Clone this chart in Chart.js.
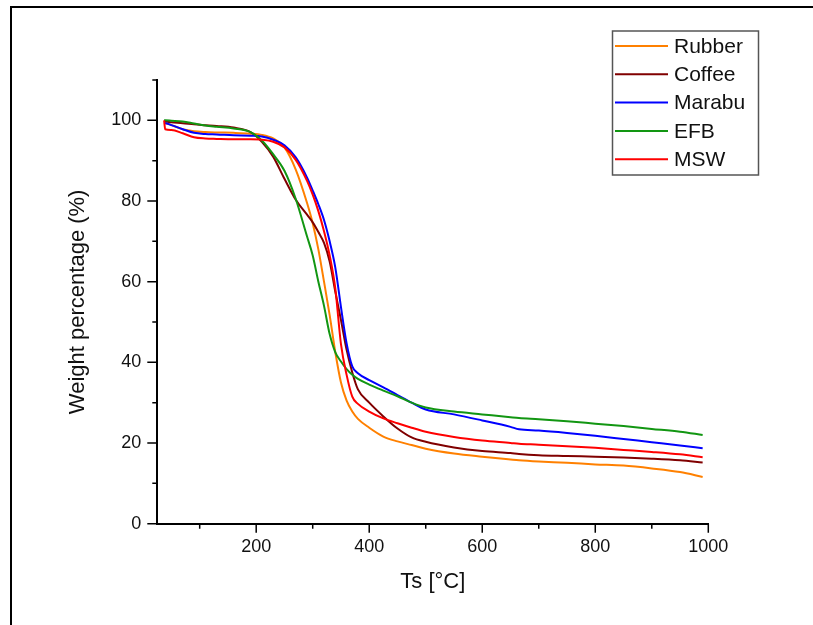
<!DOCTYPE html>
<html>
<head>
<meta charset="utf-8">
<script src="https://cdn.jsdelivr.net/npm/chart.js@4.4.0/dist/chart.umd.min.js"></script>
<style>
  html, body { margin: 0; padding: 0; background: #fff; overflow: hidden; }
  canvas { display: block; }
</style>
</head>
<body>
<canvas id="tgaChart" width="813" height="625"></canvas>
<script>
// temperature grid (°C) the curves were read at
const temperature = [37, 39, 50, 70, 90, 110, 130, 160, 190, 210, 230, 250, 270, 290, 300, 310, 320, 330, 340, 350,
  360, 370, 380, 400, 425, 450, 475, 500, 550, 600, 650, 665, 700, 750, 800, 850, 900, 950, 990];

// weight percentage (%) per sample
const rubber = [99.4, 99.3, 98.8, 97.8, 97.3, 97.1, 97.0, 96.9, 96.7, 96.4, 95.5, 93.3, 87.8, 79.5, 74.5, 68.0, 60.0, 51.7, 42.5, 35.0,
  30.5, 27.8, 26.0, 23.8, 21.6, 20.4, 19.5, 18.6, 17.4, 16.6, 15.9, 15.7, 15.4, 15.1, 14.7, 14.4, 13.7, 12.8, 11.6];
const coffee = [99.7, 99.7, 99.5, 99.3, 99.0, 98.8, 98.6, 98.2, 97.1, 94.7, 91.0, 85.5, 80.3, 76.6, 74.7, 72.3, 69.6, 65.0, 57.5, 50.5,
  43.1, 37.5, 33.3, 30.0, 26.6, 23.6, 21.4, 20.3, 18.9, 18.0, 17.5, 17.3, 17.0, 16.8, 16.6, 16.4, 16.1, 15.7, 15.2];
const marabu = [99.3, 99.3, 98.8, 97.8, 96.9, 96.6, 96.5, 96.3, 96.2, 96.0, 95.2, 93.8, 90.8, 85.8, 82.6, 79.2, 75.3, 70.0, 63.5, 53.7,
  44.7, 39.0, 37.3, 35.6, 33.8, 31.9, 30.0, 28.3, 27.1, 25.6, 24.0, 23.4, 23.1, 22.5, 21.8, 21.0, 20.2, 19.4, 18.7];
const efb = [100, 100, 99.9, 99.7, 99.2, 98.7, 98.4, 98.0, 97.1, 95.0, 91.6, 87.5, 80.5, 71.2, 66.5, 60.0, 54.0, 47.0, 42.5, 40.2,
  38.3, 36.9, 35.9, 34.5, 33.0, 31.6, 30.0, 28.8, 27.8, 27.1, 26.4, 26.2, 25.9, 25.4, 24.8, 24.2, 23.5, 22.8, 22.0];
const msw = [100, 97.8, 97.6, 96.8, 95.8, 95.5, 95.4, 95.3, 95.3, 95.2, 94.7, 93.3, 90.2, 85.0, 81.6, 77.5, 72.5, 66.5, 58.3, 44.5,
  36.9, 31.5, 29.7, 27.8, 26.1, 24.9, 23.8, 22.8, 21.5, 20.6, 20.0, 19.8, 19.6, 19.2, 18.8, 18.3, 17.8, 17.2, 16.5];

const seriesNames = ["Rubber", "Coffee", "Marabu", "EFB", "MSW"];
const seriesValues = [rubber, coffee, marabu, efb, msw];
const seriesColors = ["#ff8000", "#800000", "#0000ff", "#129612", "#ff0000"];

const xTickLabels = [200, 400, 600, 800, 1000];
const yTickLabels = [0, 20, 40, 60, 80, 100];

const FONT = "'Liberation Sans', Arial, sans-serif";

// frame, minor/major tick marks and the boxed legend
const extras = {
  id: "extras",
  beforeDraw(chart) {
    const ctx = chart.ctx;
    ctx.save();
    ctx.fillStyle = "#fff";
    ctx.fillRect(0, 0, chart.width, chart.height);
    ctx.fillStyle = "#000";
    ctx.fillRect(10, 6, chart.width, 2);
    ctx.fillRect(10, 6, 2, chart.height);
    ctx.restore();
  },
  afterDraw(chart) {
    const { ctx, chartArea, scales } = chart;
    ctx.save();
    ctx.strokeStyle = "#000";
    ctx.lineWidth = 1.5;
    ctx.beginPath();
    for (let v = 100; v <= 1000; v += 100) {
      const px = scales.x.getPixelForValue(v);
      const len = v % 200 === 0 ? 9 : 5;
      ctx.moveTo(px, chartArea.bottom);
      ctx.lineTo(px, chartArea.bottom + len);
    }
    for (let v = 0; v <= 110; v += 10) {
      const py = scales.y.getPixelForValue(v);
      const len = v % 20 === 0 ? 10 : 5;
      ctx.moveTo(chartArea.left, py);
      ctx.lineTo(chartArea.left - len, py);
    }
    ctx.stroke();

    ctx.strokeStyle = "#555";
    ctx.lineWidth = 1.5;
    ctx.strokeRect(612.5, 31, 146, 144);
    ctx.font = "21px " + FONT;
    ctx.textBaseline = "middle";
    ctx.fillStyle = "#111";
    chart.data.datasets.forEach((ds, i) => {
      const y = 46 + i * 28.3;
      ctx.strokeStyle = ds.borderColor;
      ctx.lineWidth = 2;
      ctx.beginPath();
      ctx.moveTo(615, y);
      ctx.lineTo(668, y);
      ctx.stroke();
      ctx.fillText(ds.label, 674, y + 1);
    });
    ctx.restore();
  }
};

new Chart(document.getElementById("tgaChart"), {
  type: "line",
  data: {
    datasets: seriesNames.map((name, i) => ({
      label: name,
      data: temperature.map((t, j) => ({ x: t, y: seriesValues[i][j] })),
      borderColor: seriesColors[i],
      borderWidth: 2,
      pointRadius: 0,
      fill: false,
      cubicInterpolationMode: "monotone",
      order: seriesNames.length - i
    }))
  },
  options: {
    responsive: false,
    animation: false,
    layout: { padding: { left: 55, top: 80, right: 104.7, bottom: 10 } },
    plugins: {
      legend: { display: false },
      tooltip: { enabled: false }
    },
    scales: {
      x: {
        type: "linear",
        min: 25,
        max: 1000,
        afterBuildTicks: s => { s.ticks = xTickLabels.map(v => ({ value: v })); },
        afterFit: s => { s.height = 91.3; },
        grid: { display: false, drawTicks: false },
        border: { display: true, color: "#000", width: 2 },
        ticks: {
          padding: 13,
          color: "#111",
          maxRotation: 0,
          font: { family: FONT, size: 18 },
          callback: v => String(v)
        },
        title: {
          display: true,
          text: "Ts [°C]",
          color: "#111",
          font: { family: FONT, size: 22 },
          padding: { top: 0, bottom: 20 }
        }
      },
      y: {
        type: "linear",
        min: 0,
        max: 110,
        afterBuildTicks: s => { s.ticks = yTickLabels.map(v => ({ value: v })); },
        afterFit: s => { s.width = 102.3; },
        grid: { display: false, drawTicks: false },
        border: { display: true, color: "#000", width: 2 },
        ticks: {
          padding: 16,
          color: "#111",
          font: { family: FONT, size: 18 },
          callback: v => String(v)
        },
        title: {
          display: true,
          text: "Weight percentage (%)",
          color: "#111",
          font: { family: FONT, size: 22 },
          padding: { top: 10, bottom: 0 }
        }
      }
    }
  },
  plugins: [extras]
});
</script>
</body>
</html>
